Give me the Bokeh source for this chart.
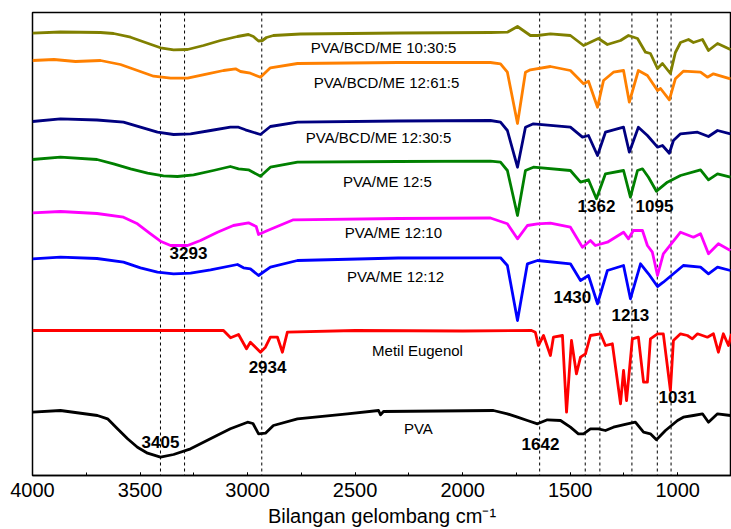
from bokeh.plotting import figure
from bokeh.models import Range1d, Span, FixedTicker
from bokeh.core.properties import value
from bokeh.embed import file_html
from bokeh.resources import INLINE

# ---------------- data (wavenumber cm-1, transmittance a.u. with offsets) -------------
olive_wn = [4000, 3870, 3684, 3623, 3544, 3465, 3405, 3344, 3279, 3205, 3126, 3047, 2996, 2973, 2949,
            2931, 2912, 2880, 2754, 2289, 1871, 1792, 1745, 1685, 1652, 1592, 1499, 1438, 1369, 1327,
            1266, 1229, 1187, 1150, 1127, 1094, 1071, 1034, 1011, 987, 950, 927, 885, 857, 815, 755]
olive_t = [442.3, 443.5, 443, 442, 438.3, 432.3, 427.7, 425.7, 426, 430, 435, 439, 441, 439, 434.5,
           435, 438, 440, 441.5, 442.5, 443, 443.3, 449, 440, 440, 441.7, 440, 430, 437, 431,
           435, 440, 437, 423.3, 422, 407, 412, 402, 423, 433, 436, 433, 436, 425, 432, 426]

orange_wn = [4000, 3900, 3800, 3684, 3591, 3512, 3437, 3358, 3279, 3186, 3112, 3056, 3033, 2987, 2940,
             2894, 2768, 2300, 1871, 1824, 1792, 1745, 1708, 1685, 1592, 1499, 1438, 1415, 1373, 1345,
             1299, 1252, 1225, 1183, 1141, 1094, 1080, 1039, 1011, 974, 894, 862, 834, 755]
orange_t = [415, 416, 414, 415, 411, 405, 399.3, 397.3, 397.3, 401.7, 405, 406.7, 404, 402.3, 398.3,
            407.7, 412, 413, 413, 411.7, 403.3, 352, 403.3, 405.7, 409, 405, 391.7, 394.3, 368.3, 395,
            403.3, 405, 373.3, 405, 400, 385, 387, 375.7, 396.7, 404.3, 403.3, 398.3, 401.7, 396.7]

navy_wn = [4000, 3870, 3700, 3577, 3498, 3419, 3344, 3265, 3172, 3080, 3042, 3010, 2940, 2894, 2768,
           2300, 1871, 1824, 1792, 1745, 1708, 1671, 1499, 1443, 1415, 1373, 1336, 1252, 1225, 1183,
           1141, 1094, 1071, 1039, 1020, 987, 908, 857, 815, 755]
navy_t = [354, 356.7, 355.5, 353.3, 348.3, 343.3, 341, 341.7, 345, 348.3, 348.3, 345.7, 341, 349, 353.3,
          354.5, 355, 353.3, 345, 308.3, 348.3, 351.7, 348.3, 338.3, 340, 320, 343.3, 348.3, 323.3, 348.3,
          340, 328.3, 330, 322.3, 335, 341.7, 343.3, 339, 345, 341.7]

green_wn = [4000, 3870, 3700, 3623, 3544, 3465, 3391, 3326, 3251, 3159, 3080, 3042, 2996, 2940, 2894,
            2768, 2300, 1871, 1824, 1792, 1745, 1708, 1671, 1499, 1452, 1415, 1378, 1336, 1252, 1220,
            1187, 1164, 1136, 1099, 1048, 987, 894, 857, 815, 755]
green_t = [316, 318.3, 316, 311.7, 306.7, 302.3, 299.7, 299, 300.7, 305, 309, 306.7, 305.7, 299.3, 308.3,
           313.3, 314, 314.3, 313.3, 305, 260, 305, 308.3, 305, 293.3, 295.7, 276.7, 301.7, 305, 278.3,
           305, 306.7, 298.3, 284.3, 293.3, 300, 305.7, 295.7, 301.7, 298.3]

magenta_wn = [4000, 3870, 3700, 3577, 3512, 3451, 3405, 3358, 3279, 3219, 3140, 3066, 2996, 2960, 2949,
              2907, 2787, 2300, 1871, 1792, 1745, 1699, 1652, 1592, 1499, 1443, 1406, 1383, 1327, 1252,
              1229, 1206, 1164, 1141, 1118, 1094, 1067, 987, 927, 894, 857, 811, 755]
magenta_t = [262.7, 264, 262, 258.3, 251.7, 241.7, 234.3, 230, 230, 235, 243.3, 250, 252.7, 249, 241,
             245, 255.7, 257, 257.5, 251.7, 236.7, 250, 251.7, 252.3, 248.3, 228.3, 235, 230, 233.3, 243.3,
             236.7, 245, 245, 230, 223.3, 200, 221.7, 243.3, 238.3, 241.7, 221.7, 231.7, 225]

blue_wn = [4000, 3870, 3700, 3577, 3498, 3419, 3344, 3265, 3172, 3047, 3019, 2987, 2949, 2894, 2768,
           2300, 1871, 1824, 1792, 1745, 1699, 1652, 1499, 1452, 1415, 1373, 1327, 1252, 1220, 1173,
           1136, 1094, 1067, 974, 894, 857, 815, 755]
blue_t = [216.7, 218.3, 217, 213.3, 207.7, 203.3, 201.7, 202.3, 205.7, 211, 207.7, 206.7, 200, 208.3, 215,
          217.5, 217.7, 217.7, 210, 155, 211.7, 215, 211.7, 195, 200, 171.7, 205, 210, 176.7, 211.7,
          201.7, 189, 193.3, 210, 208.3, 201.7, 208.3, 205]

red_wn = [4000, 3500, 3112, 3079, 3042, 3005, 2987, 2940, 2917, 2894, 2861, 2838, 2815, 2500, 2000,
          1680, 1662, 1648, 1624, 1592, 1578, 1536, 1517, 1494, 1471, 1452, 1429, 1406, 1359, 1336,
          1304, 1266, 1252, 1238, 1211, 1183, 1159, 1141, 1127, 1094, 1067, 1034, 1020, 987, 955,
          932, 908, 862, 834, 811, 788, 764, 750]
red_t = [145, 145, 145, 137.7, 141, 126.7, 133.3, 123.3, 128.3, 138.3, 138.3, 123.3, 143.3, 145, 144.5,
         145, 143.3, 130, 140, 120, 138.3, 140, 63.3, 135, 101.7, 118.3, 121.7, 140, 141.7, 130,
         131.7, 71.7, 105, 75, 136.7, 138.3, 93.3, 93.3, 136.7, 141.7, 141.7, 85, 135, 141.7, 140,
         136.7, 141.7, 138.3, 141.7, 123.3, 141.7, 130, 141.7]

black_wn = [4000, 3870, 3698, 3651, 3605, 3558, 3512, 3465, 3405, 3344, 3265, 3159, 3080, 3000, 2975,
            2949, 2917, 2880, 2768, 2536, 2391, 2382, 2368, 1857, 1792, 1745, 1699, 1652, 1606, 1545,
            1499, 1462, 1438, 1406, 1369, 1336, 1299, 1234, 1197, 1159, 1127, 1099, 1057, 1001, 974,
            927, 885, 857, 815, 755]
black_t = [63.3, 65, 60, 56.7, 46.7, 36.7, 28.3, 22.3, 18.3, 21, 26.7, 38.3, 46.7, 53.3, 52,
           41.7, 42.3, 50, 56.7, 61.7, 65, 60.7, 64, 65, 61.7, 58.3, 55, 51.7, 55.7, 55,
           48.3, 41.7, 41.7, 46.7, 46.7, 45, 48.3, 51.7, 53.3, 43.3, 41.7, 35.7, 45, 55, 58.3,
           60, 61.7, 53.3, 61.7, 60]

series_names = ["PVA/BCD/ME 10:30:5", "PVA/BCD/ME 12:61:5", "PVA/BCD/ME 12:30:5", "PVA/ME 12:5",
                "PVA/ME 12:10", "PVA/ME 12:12", "Metil Eugenol", "PVA"]
name_x = [2368, 2354, 2391, 2350, 2322, 2312, 2210, 2206]
name_y = [428.3, 392.7, 337.7, 294.3, 243.3, 199.3, 125, 47]

peak_lines = [3405, 3293, 2934, 1642, 1430, 1362, 1213, 1095, 1031]
peak_text = ["3293", "1362", "1095", "1430", "1213", "2934", "3405", "1031", "1642"]
peak_x = [3275, 1378, 1108, 1490, 1220, 2907, 3405, 1001, 1638]
peak_y = [223, 269.3, 269.3, 178.3, 161, 108.3, 34, 78.3, 31.7]

x_ticks = [4000, 3500, 3000, 2500, 2000, 1500, 1000]
x_minor = [3750, 3250, 2750, 2250, 1750, 1250, 750]
x_title = "Bilangan gelombang cm\u207b\u00b9"

FONT = "Liberation Sans"

p = figure(width=731, height=529, output_backend="svg", toolbar_location=None,
           x_range=Range1d(4000, 750), y_range=Range1d(0, 463),
           min_border_left=32, min_border_right=0, min_border_top=12, min_border_bottom=54,
           background_fill_color="white", border_fill_color="white")
p.grid.visible = False
p.yaxis.visible = False
p.outline_line_color = "black"
p.outline_line_width = 1.5

ticker = FixedTicker(ticks=x_ticks, minor_ticks=x_minor + x_ticks)
ax = p.xaxis[0]
ax.ticker = ticker
ax.major_tick_in = 3
ax.major_tick_out = 0
ax.minor_tick_in = 3
ax.minor_tick_out = 0
ax.axis_line_width = 1.5
ax.major_label_text_font = FONT
ax.major_label_text_font_size = "20px"
ax.major_label_text_color = "black"
ax.major_label_standoff = 7
ax.axis_label = x_title
ax.axis_label_text_font = FONT
ax.axis_label_text_font_size = "20px"
ax.axis_label_text_font_style = "normal"
ax.axis_label_text_color = "black"
ax.axis_label_standoff = 5

for loc in peak_lines:
    p.add_layout(Span(location=loc, dimension="height", line_color="black", line_width=1,
                      line_dash="3 3", level="underlay"))

spectra = [
    (black_wn, black_t, "#000000"),
    (red_wn, red_t, "#FF0000"),
    (blue_wn, blue_t, "#0000FF"),
    (magenta_wn, magenta_t, "#FF00FF"),
    (green_wn, green_t, "#008000"),
    (navy_wn, navy_t, "#000080"),
    (orange_wn, orange_t, "#FF8000"),
    (olive_wn, olive_t, "#808000"),
]
for wn, t, c in spectra:
    p.line(wn, t, line_color=c, line_width=2.8, line_join="round")

p.text(x=name_x, y=name_y, text=series_names, text_font=value(FONT), text_font_size="15px",
       text_align="center", text_baseline="middle", text_color="black")
p.text(x=peak_x, y=peak_y, text=peak_text, text_font=value(FONT), text_font_size="17px",
       text_font_style="bold", text_align="center", text_baseline="middle", text_color="black")

open("out.html", "w").write(file_html(p, INLINE))
